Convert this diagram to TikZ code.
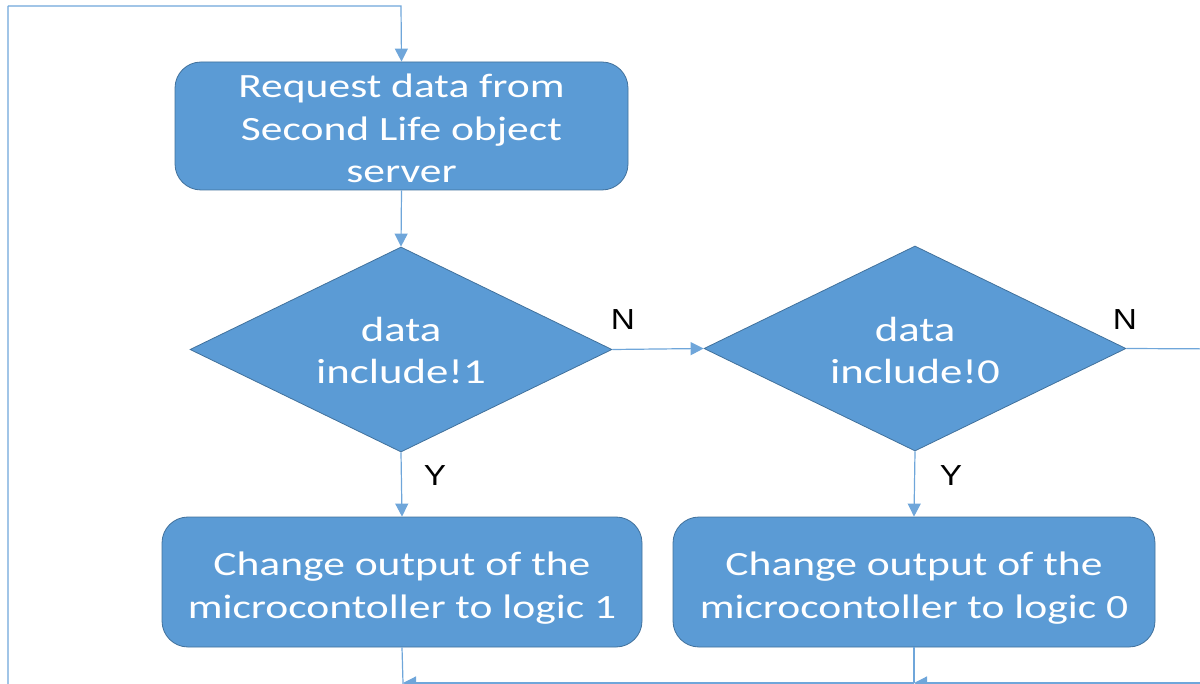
\documentclass[tikz,border=0pt]{standalone}
\usepackage{fontspec}
\setmainfont{Carlito}
\newfontfamily\widefont[FakeStretch=1.28]{Carlito}
\newfontfamily\labelfont[FakeStretch=1.15]{Liberation Sans}
\usetikzlibrary{shapes.geometric,arrows.meta}

\definecolor{boxblue}{HTML}{5B9BD5}
\definecolor{boxedge}{HTML}{41719C}
\definecolor{wireblue}{HTML}{6FA6DA}

% centred block of lines, drawn #1 lower than its box
\newcommand{\linesdown}[2]{\raisebox{-#1}[\height][\depth]{\begin{tabular}{@{}c@{}}#2\end{tabular}}}

\tikzset{
  procbox/.style={draw=boxedge, line width=0.8pt, fill=boxblue, rounded corners=26pt,
    text=white, align=center, inner sep=0pt, font=\widefont\fontsize{34}{42.5}\selectfont},
  decision/.style={diamond, draw=boxedge, line width=0.8pt, fill=boxblue, text=white,
    align=center, inner sep=0pt, minimum width=422pt, minimum height=205pt, aspect=2.06,
    font=\widefont\fontsize{35}{42}\selectfont},
  wire/.style={draw=wireblue, line width=1.2pt},
  flow/.style={wire, -{Triangle[width=13pt,length=13pt]}},
  branch/.style={font=\labelfont\fontsize{29}{32}\selectfont, text=black}
}

\begin{document}
\begin{tikzpicture}[x=1pt,y=-1pt]
  \useasboundingbox (0,0) rectangle (1200,684);
  \clip (0,0) rectangle (1200,684);

  % process steps
  \node[procbox, minimum width=453pt, minimum height=128pt] (req) at (401.5,126)
    {\linesdown{6pt}{Request data from\\Second Life object\\server}};
  \node[decision] (d1) at (401,349.5) {\linesdown{5pt}{data\\include!1}};
  \node[decision] (d0) at (915,348.5) {\linesdown{6pt}{data\\include!0}};
  \node[procbox, minimum width=480pt, minimum height=130pt, font=\widefont\fontsize{34}{43}\selectfont]
    (out1) at (402,582) {\linesdown{6pt}{Change output of the\\microcontoller to logic 1}};
  \node[procbox, minimum width=482pt, minimum height=130pt, font=\widefont\fontsize{34}{43}\selectfont]
    (out0) at (914,582) {\linesdown{6pt}{Change output of the\\microcontoller to logic 0}};

  % branch labels
  \node[branch] (n1) at (623,320) {N};
  \node[branch] (n0) at (1125,320) {N};
  \node[branch] (y1) at (435,476) {Y};
  \node[branch] (y0) at (951,476) {Y};

  % routing points of the loop
  \coordinate (topleft) at (8,6);
  \coordinate (topright) at (401,6);
  \coordinate (farright) at (1230,349);
  \coordinate (farbottom) at (1230,683);
  \coordinate (join0) at (914,683);
  \coordinate (join1) at (403,683);
  \coordinate (lowleft) at (8,700);
  \coordinate (lowmid) at (403,700);

  % connectors
  \draw[flow] (topleft) -- (topright) -- (req.north);
  \draw[flow] (req.south) -- (d1.north);
  \draw[flow] (d1.east) -- (d0.west);
  \draw[flow] (d1.south) -- (out1.north);
  \draw[flow] (d0.south) -- (out0.north);
  \draw[wire] (d0.east) -- (farright) -- (farbottom);
  \draw[flow] (farbottom) -- (join0);
  \draw[wire] (out0.south) -- (join0);
  \draw[flow] (join0) -- (join1);
  \draw[wire] (out1.south) -- (join1) -- (lowmid) -- (lowleft) -- (topleft);
\end{tikzpicture}
\end{document}
